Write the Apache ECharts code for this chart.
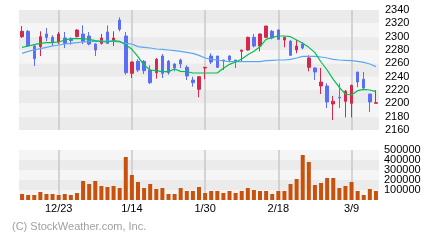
<!DOCTYPE html>
<html><head><meta charset="utf-8">
<script src="https://cdn.jsdelivr.net/npm/echarts@6/dist/echarts.min.js"></script>
<style>html,body{margin:0;padding:0;background:#fff}#c{width:440px;height:240px}</style>
</head><body><div id="c"></div>
<script>
const opens  = [2300,2308,2286,2285,2304,2299,2292,2298,2296,2300,2304,2301,2289,2290,2307,2295,2325,2301,2245,2263,2263,2250,2246,2271,2263,2259,2265,2254,2235,2221,2253,2271,2271,2265,2271,2265,2278,2280,2299,2286,2299,2308,2310,2295,2293,2280,2289,2254,2253,2226,2226,2199,2209,2203,2200,2247,2236,2214,2200];
const closes = [2308,2286,2267,2300,2299,2292,2304,2290,2294,2310,2293,2289,2280,2298,2290,2298,2311,2246,2262,2250,2249,2231,2266,2245,2246,2253,2259,2241,2231,2240,2254,2262,2254,2264,2265,2264,2280,2299,2286,2304,2316,2298,2296,2299,2272,2286,2283,2268,2247,2232,2202,2203,2208,2218,2227,2232,2223,2202,2201];
const lows   = [2298,2285,2256,2271,2293,2286,2289,2283,2288,2299,2289,2287,2271,2288,2289,2286,2308,2243,2238,2247,2244,2229,2237,2238,2243,2248,2253,2235,2225,2209,2236,2259,2253,2250,2263,2253,2262,2279,2284,2278,2298,2296,2295,2284,2271,2275,2281,2248,2235,2214,2193,2175,2193,2179,2179,2224,2220,2187,2200];
const highs  = [2316,2310,2287,2308,2313,2302,2307,2307,2299,2311,2317,2307,2290,2304,2317,2308,2329,2307,2263,2266,2265,2257,2268,2274,2265,2260,2267,2257,2240,2240,2254,2275,2271,2265,2272,2265,2280,2300,2304,2305,2316,2310,2311,2300,2295,2295,2292,2272,2254,2253,2230,2211,2230,2220,2228,2247,2247,2214,2220];
const ma5    = [2284,2286,2288,2290,2291,2291,2292,2295,2297,2297,2297,2296,2294,2292.5,2292,2294,2293,2288,2281,2270,2257,2250,2249,2247.5,2247.5,2251.5,2248,2247.5,2245.5,2245.5,2245.5,2245.5,2245.5,2252.5,2258.5,2262,2266.5,2273,2278,2285,2296,2299,2301,2301,2300,2295,2290,2284,2276,2262,2250,2236,2224,2214,2212.5,2219,2221,2220,2217.5];
const ma25   = [2275,2278,2280,2282,2284,2286,2287.5,2289,2290,2291,2292,2293,2293,2293.5,2293.5,2293,2292,2290,2289,2285,2284,2283,2281.5,2281,2280,2279,2278,2276.5,2275,2272,2268,2266,2265,2263.5,2262.5,2262.5,2262.5,2262.5,2262.5,2262.5,2264,2264.5,2265,2265,2266,2268,2270.5,2270.5,2270.5,2269.5,2268,2266,2265,2264.5,2264,2263,2261.5,2259,2255];
const volumes = [60000,50000,50000,80000,60000,60000,50000,60000,50000,70000,190000,160000,190000,140000,130000,140000,120000,430000,250000,180000,120000,160000,110000,120000,60000,60000,120000,90000,90000,130000,70000,90000,90000,70000,90000,70000,90000,120000,100000,90000,90000,60000,90000,90000,160000,210000,450000,380000,150000,170000,220000,220000,120000,140000,180000,90000,50000,110000,90000];
const tickIndex  = [6,18,30,42,54];
const tickLabels = ['12/23','1/14','1/30','2/18','3/9'];
const priceTicks = [2160,2180,2200,2220,2240,2260,2280,2300,2320,2340];
const volumeTicks = [100000,200000,300000,400000,500000];

const categories = closes.map((_, i) => String(i));
const candleData = closes.map((c, i) => [opens[i], c, lows[i], highs[i]]);
const FONT = '"Liberation Sans", Arial, sans-serif';
const vlines = {
  silent: true, symbol: ['none','none'], z: 1,
  label: {show: false},
  lineStyle: {color: '#c8c8c8', width: 1.5, type: 'solid'},
  emphasis: {disabled: true},
  data: tickIndex.map(i => ({xAxis: categories[i]}))
};
// volume labels split over two axes (odd / even ticks) so no label is auto-hidden
const volLabelAxis = (parity, withArea) => ({
  type: 'value', gridIndex: 1, position: 'right', min: 0, max: volumeTicks[volumeTicks.length-1], interval: 100000,
  axisLine: {show: false}, axisTick: {show: false}, splitLine: {show: false},
  splitArea: {show: withArea, areaStyle: {color: ['#f5f5f5', '#ebebeb']}},
  axisLabel: {margin: 5, color: '#000', fontFamily: FONT, fontSize: 11, align: 'left',
    showMinLabel: true, showMaxLabel: true,
    formatter: v => { const k = volumeTicks.indexOf(v); return (k >= 0 && k % 2 === parity) ? String(v) : ''; }}
});

const chart = echarts.init(document.getElementById('c'), null, {renderer: 'canvas'});
chart.setOption({
  animation: false,
  backgroundColor: '#fff',
  grid: [
    {left: 19, width: 360, top: 10, height: 120},
    {left: 19, width: 360, top: 150, height: 50}
  ],
  xAxis: [
    {type: 'category', gridIndex: 0, data: categories, boundaryGap: true,
     axisLine: {show: false}, axisTick: {show: false}, axisLabel: {show: false}, splitLine: {show: false}},
    {type: 'category', gridIndex: 1, data: categories, boundaryGap: true,
     axisLine: {show: false}, axisTick: {show: false}, splitLine: {show: false},
     axisLabel: {show: true, margin: 3, color: '#000', fontFamily: FONT, fontSize: 11,
       interval: (idx) => tickIndex.indexOf(idx) >= 0,
       formatter: (v, idx) => { const k = tickIndex.indexOf(idx); return k >= 0 ? tickLabels[k] : ''; }}}
  ],
  yAxis: [
    {type: 'value', gridIndex: 0, position: 'right', min: priceTicks[0], max: priceTicks[priceTicks.length-1], interval: 20,
     axisLine: {show: false}, axisTick: {show: false}, splitLine: {show: false},
     splitArea: {show: true, areaStyle: {color: ['#ebebeb', '#f5f5f5']}},
     axisLabel: {margin: 6, color: '#000', fontFamily: FONT, fontSize: 11, align: 'left',
       showMinLabel: true, showMaxLabel: true,
       formatter: v => priceTicks.indexOf(v) >= 0 ? String(v) : ''}},
    volLabelAxis(0, true),
    volLabelAxis(1, false)
  ],
  series: [
    {type: 'candlestick', xAxisIndex: 0, yAxisIndex: 0, data: candleData, barWidth: 3,
     itemStyle: {color: '#d4284c', color0: '#5b6ef6', borderColor: '#d4284c', borderColor0: '#5b6ef6', borderWidth: 1},
     markLine: vlines},
    {type: 'line', xAxisIndex: 0, yAxisIndex: 0, data: ma25, symbol: 'none', z: 3,
     lineStyle: {color: '#5aa8f2', width: 1.2}},
    {type: 'line', xAxisIndex: 0, yAxisIndex: 0, data: ma5, symbol: 'none', z: 4,
     lineStyle: {color: '#00c050', width: 1.2}},
    {type: 'bar', xAxisIndex: 1, yAxisIndex: 1, data: volumes, barWidth: 4,
     itemStyle: {color: '#c8520c'}, markLine: vlines}
  ],
  graphic: [
    {type: 'text', left: 12, top: 221,
     style: {text: '(C) StockWeather.com, Inc.', fill: '#a0a0a0', font: '11px ' + FONT}}
  ]
});
</script></body></html>
